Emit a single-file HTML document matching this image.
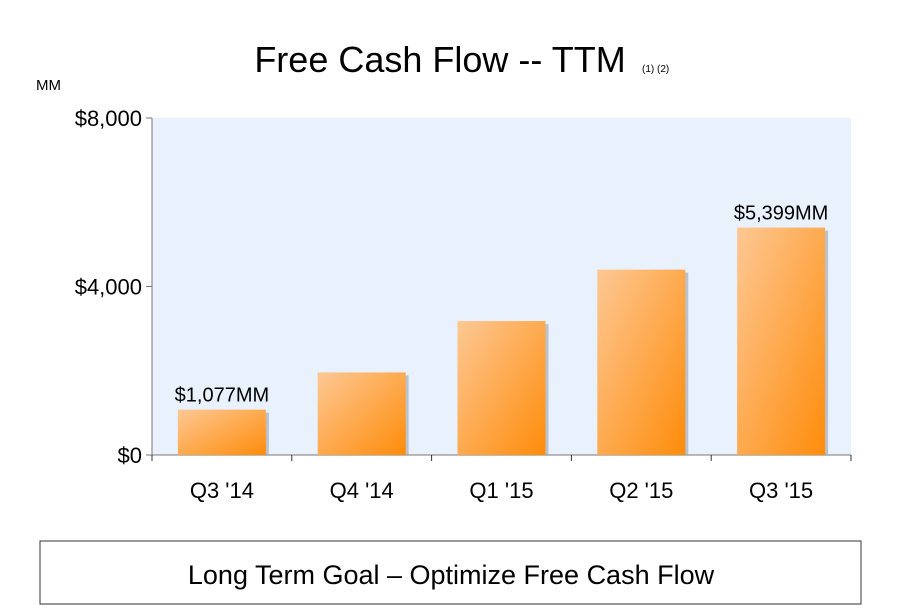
<!DOCTYPE html>
<html><head><meta charset="utf-8"><style>
body{margin:0;background:#fff;width:904px;height:609px;overflow:hidden;font-family:"Liberation Sans","DejaVu Sans",sans-serif;}
</style></head><body>
<svg width="904" height="609" xmlns="http://www.w3.org/2000/svg">
<defs>
<linearGradient id="g" x1="0" y1="0" x2="1" y2="1">
<stop offset="0" stop-color="#fdc894"/><stop offset="1" stop-color="#ff8c0a"/></linearGradient>
</defs>
<text x="440" y="72" font-size="36" text-anchor="middle" fill="#000">Free Cash Flow -- TTM</text>
<text x="642" y="72" font-size="10" fill="#000">(1) (2)</text>
<text x="36" y="90" font-size="15" fill="#000">MM</text>
<rect x="152" y="118" width="699" height="337" fill="#e9f1fc"/>
<g id="axes"></g>
<g id="bars"></g>
<rect x="40" y="541" width="821" height="63" fill="#fff" stroke="#333" stroke-width="1"/>
<text x="451" y="584" font-size="27" text-anchor="middle" fill="#000">Long Term Goal – Optimize Free Cash Flow</text>
</svg>
<script>
const categories=["Q3 '14","Q4 '14","Q1 '15","Q2 '15","Q3 '15"];
const values=[1077,1960,3180,4400,5399];
const labels=["$1,077MM","","","","$5,399MM"];
const yTicks=[0,4000,8000];
const yTickLabels=["$0","$4,000","$8,000"];
const NS="http://www.w3.org/2000/svg";
const x0=152,x1=851,y0=455,y1=118,yMax=8000;
const bw=(x1-x0)/categories.length;
function ys(v){return y0-(v/yMax)*(y0-y1);}
function xs(i){return x0+bw*(i+0.5);}
function mk(t,a,p){const e=document.createElementNS(NS,t);for(const k in a)e.setAttribute(k,a[k]);p.appendChild(e);return e;}
const ax=document.getElementById('axes'),bg=document.getElementById('bars');
let l=mk('line',{x1:x0,y1:y1,x2:x0,y2:y0,stroke:'#777','stroke-width':1},ax);


l=mk('line',{x1:x0,y1:y0,x2:x1,y2:y0,stroke:'#777','stroke-width':1},ax);


yTicks.forEach((v,i)=>{
 const y=ys(v);
 let t=mk('line',{x1:x0-6,y1:y,x2:x0,y2:y,stroke:'#777'},ax);
 
 
 let tx=mk('text',{x:x0-10,y:y+8,'font-size':22,'text-anchor':'end',fill:'#000'},ax);
 tx.textContent=yTickLabels[i];
 
 
});
for(let i=0;i<=categories.length;i++){
 const x=x0+bw*i;
 let t=mk('line',{x1:x,y1:y0,x2:x,y2:y0+6,stroke:'#333'},ax);
 
 
}
categories.forEach((c,i)=>{
 const cx=xs(i),top=ys(values[i]),w=88;
 let s=mk('rect',{x:cx-w/2+3,y:top+3,width:w,height:y0-top-3,fill:'#9aa3ad',opacity:0.6},bg);
 
 
 let r=mk('rect',{x:cx-w/2,y:top,width:w,height:y0-top,fill:'url(#g)'},bg);
 
 
 if(labels[i]){
  let tx=mk('text',{x:cx,y:top-8,'font-size':20,'text-anchor':'middle',fill:'#000'},bg);
  tx.textContent=labels[i];
  
  
 }
 let cl=mk('text',{x:cx,y:498,'font-size':22,'text-anchor':'middle',fill:'#000'},bg);
 cl.textContent=c;
 
 
});
</script>
</body></html>
